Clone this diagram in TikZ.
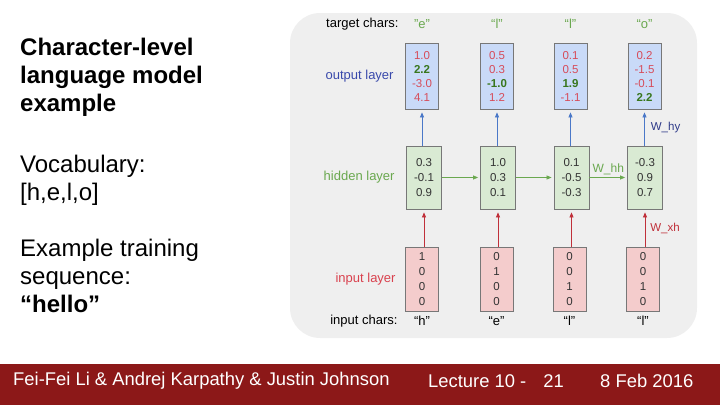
\documentclass[tikz,border=0pt]{standalone}
\usepackage{fontspec}
\setmainfont{Liberation Sans}
\usetikzlibrary{
  arrows.meta,
  positioning,
  backgrounds
}
\definecolor{bggray}{HTML}{EFEFEF}
\definecolor{footred}{HTML}{8C1818}
\definecolor{boxgray}{HTML}{777777}
\definecolor{outfill}{HTML}{C9DAF8}
\definecolor{hidfill}{HTML}{D9EAD3}
\definecolor{infill}{HTML}{F4CCCC}
\definecolor{numred}{HTML}{D64C5A}
\definecolor{numgreen}{HTML}{38761D}
\definecolor{outblue}{HTML}{3949AB}
\definecolor{hidgreen}{HTML}{6AA84F}
\definecolor{inred}{HTML}{D9414E}
\definecolor{arrblue}{HTML}{4A78C8}
\definecolor{arrred}{HTML}{C0303A}
\definecolor{txtgray}{HTML}{333333}
\newcommand{\rd}[1]{\textcolor{numred}{#1}}
\newcommand{\gn}[1]{\textcolor{numgreen}{\bfseries #1}}

\begin{document}
\begin{tikzpicture}[
  x=1pt, y=-1pt,
  box/.style={draw=boxgray, line width=0.8pt, minimum width=33pt, align=center,
    inner sep=2pt, font=\fontsize{11.5}{15}\selectfont},
  arrow/.style={-{Triangle[length=5pt, width=4pt]}, line width=0.7pt, shorten >=3pt},
  layerlbl/.style={font=\fontsize{13}{15}\selectfont},
  wlbl/.style={font=\fontsize{12}{14}\selectfont, inner sep=2pt},
  side/.style={font=\fontsize{24}{28}\selectfont, align=left, anchor=north west, inner sep=0pt},
  foot/.style={font=\fontsize{18.4}{20}\selectfont, text=white, anchor=west, inner sep=0pt}
]
  \useasboundingbox (0,0) rectangle (720,405);

  % --- Background panel and footer ---
  \fill[bggray, rounded corners=30pt] (290,13) rectangle (697,338);
  \fill[footred] (0,364) rectangle (720,405);

  % --- Left text ---
  \node[side, font=\fontsize{24}{28}\selectfont\bfseries] (title) at (20,38)
    {Character-level\\language model\\example};
  \node[side] (vocab) at (20,155) {Vocabulary:\\{[h,e,l,o]}};
  \node[side] (seq) at (20,239) {Example training\\sequence:\\\textbf{“hello”}};

  % --- Output layer ---
  \node[box, fill=outfill, minimum height=66pt, font=\fontsize{11.5}{14}\selectfont] (out1) at (422,76) {\rd{1.0}\\\gn{2.2}\\\rd{-3.0}\\\rd{4.1}};
  \node[box, fill=outfill, minimum height=66pt, font=\fontsize{11.5}{14}\selectfont] (out2) at (497,76) {\rd{0.5}\\\rd{0.3}\\\gn{-1.0}\\\rd{1.2}};
  \node[box, fill=outfill, minimum height=66pt, font=\fontsize{11.5}{14}\selectfont] (out3) at (570.5,76) {\rd{0.1}\\\rd{0.5}\\\gn{1.9}\\\rd{-1.1}};
  \node[box, fill=outfill, minimum height=66pt, font=\fontsize{11.5}{14}\selectfont] (out4) at (644.5,76) {\rd{0.2}\\\rd{-1.5}\\\rd{-0.1}\\\gn{2.2}};

  % --- Hidden layer ---
  \node[box, fill=hidfill, minimum height=63pt, minimum width=35pt, text=txtgray] (hid1) at (424,177.5) {0.3\\-0.1\\0.9};
  \node[box, fill=hidfill, minimum height=63pt, minimum width=35pt, text=txtgray] (hid2) at (498,177.5) {1.0\\0.3\\0.1};
  \node[box, fill=hidfill, minimum height=63pt, minimum width=35pt, text=txtgray] (hid3) at (571.5,177.5) {0.1\\-0.5\\-0.3};
  \node[box, fill=hidfill, minimum height=63pt, minimum width=35pt, text=txtgray] (hid4) at (645,177.5) {-0.3\\0.9\\0.7};

  % --- Input layer ---
  \node[box, fill=infill, minimum height=64pt, text=txtgray] (in1) at (422,279) {1\\0\\0\\0};
  \node[box, fill=infill, minimum height=64pt, text=txtgray] (in2) at (496.5,279) {0\\1\\0\\0};
  \node[box, fill=infill, minimum height=64pt, text=txtgray] (in3) at (569.5,279) {0\\0\\1\\0};
  \node[box, fill=infill, minimum height=64pt, text=txtgray] (in4) at (643,279) {0\\0\\1\\0};

  % --- Layer labels ---
  \node[layerlbl, text=outblue, left=8pt of out1] (outlbl) {output layer};
  \node[layerlbl, text=hidgreen, left=8pt of hid1] (hidlbl) {hidden layer};
  \node[layerlbl, text=inred, left=6pt of in1] (inlbl) {input layer};

  % --- Characters ---
  \node[layerlbl, text=hidgreen] (t1) at (422,24) {"e"};
  \node[layerlbl, text=hidgreen] (t2) at (497,24) {“l”};
  \node[layerlbl, text=hidgreen] (t3) at (570.5,24) {“l”};
  \node[layerlbl, text=hidgreen] (t4) at (644.5,24) {“o”};
  \node[layerlbl, anchor=east] (tgtlbl) at (402,24) {target chars:};
  \node[layerlbl] (c1) at (422,321) {“h”};
  \node[layerlbl] (c2) at (496.5,321) {“e”};
  \node[layerlbl] (c3) at (569.5,321) {“l”};
  \node[layerlbl] (c4) at (643,321) {“l”};
  \node[layerlbl, anchor=east] (inclbl) at (401,321) {input chars:};

  % Hidden -> Output
  \draw[arrow, arrblue] (hid1.north -| out1) -- (out1);
  \draw[arrow, arrblue] (hid2.north -| out2) -- (out2);
  \draw[arrow, arrblue] (hid3.north -| out3) -- (out3);
  \draw[arrow, arrblue] (hid4.north -| out4) -- node[right, wlbl, xshift=4pt, font=\fontsize{11.5}{14}\selectfont, text=outblue!80!black] {W\_hy} (out4);

  % Hidden -> Hidden
  \draw[arrow, hidgreen, shorten >=2pt] (hid1) -- (hid2);
  \draw[arrow, hidgreen, shorten >=2pt] (hid2) -- (hid3);
  \draw[arrow, hidgreen, shorten >=2pt] (hid3) -- node[above, wlbl] {W\_hh} (hid4);

  % Input -> Hidden
  \draw[arrow, arrred] (in1.north -| hid1) -- (hid1);
  \draw[arrow, arrred] (in2.north -| hid2) -- (hid2);
  \draw[arrow, arrred] (in3.north -| hid3) -- (hid3);
  \draw[arrow, arrred] (in4.north -| hid4) -- node[right, wlbl, xshift=3pt, font=\fontsize{11.5}{14}\selectfont, text=arrred] {W\_xh} (hid4);

  % --- Footer ---
  \node[foot] (authors) at (13,381) {Fei-Fei Li \& Andrej Karpathy \& Justin Johnson};
  \node[foot] (lecture) at (428,381) {Lecture 10 -\hspace{17pt}21};
  \node[foot] (date) at (600,381) {8 Feb 2016};

\end{tikzpicture}
\end{document}
